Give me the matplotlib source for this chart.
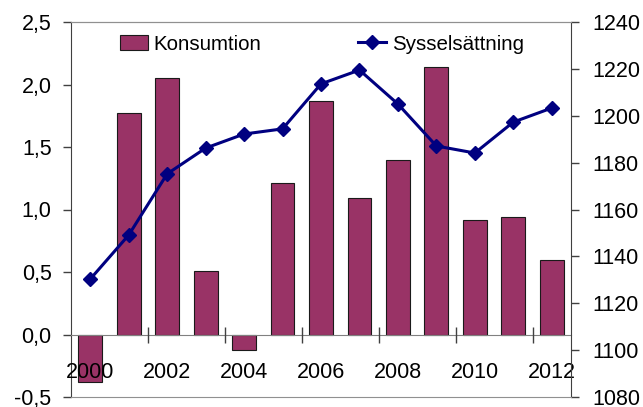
import matplotlib
matplotlib.use("Agg")
import matplotlib.pyplot as plt
from matplotlib.lines import Line2D
from matplotlib.patches import Patch

plt.rcParams['font.family'] = ['Liberation Sans', 'DejaVu Sans']

years = [2000, 2001, 2002, 2003, 2004, 2005, 2006, 2007, 2008, 2009, 2010, 2011, 2012]
konsumtion = [-0.38, 1.77, 2.05, 0.51, -0.12, 1.21, 1.87, 1.09, 1.40, 2.14, 0.92, 0.94, 0.60]
sysselsattning = [1130.3, 1149.1, 1175.2, 1186.2, 1192.2, 1194.4, 1213.6, 1219.5, 1205.0,
                  1187.1, 1184.1, 1197.3, 1203.3]
left_ticks = [-0.5, 0.0, 0.5, 1.0, 1.5, 2.0, 2.5]
left_labels = ['-0,5', '0,0', '0,5', '1,0', '1,5', '2,0', '2,5']
right_ticks = [1080, 1100, 1120, 1140, 1160, 1180, 1200, 1220, 1240]

bar_color = '#993366'
line_color = '#000080'
fs = 15.5
fs_leg = 14.8

fig = plt.figure(figsize=(6.43, 4.07), dpi=100)
ax = fig.add_axes([71/643, 10/407, 500/643, 375/407])
x = list(range(len(years)))

ax.bar(x, konsumtion, width=0.62, color=bar_color, edgecolor='#1a1a1a', linewidth=0.8, zorder=2)
ax.set_xlim(-0.5, len(years) - 0.5)
ax.set_ylim(-0.5, 2.5)
ax.set_yticks(left_ticks)
ax.set_yticklabels(left_labels, fontsize=fs)
ax.tick_params(axis='y', direction='out', length=6, width=1, color='#404040', pad=8)

ax.spines['bottom'].set_position(('data', 0))
ax.spines['bottom'].set_color('#808080')
ax.spines['bottom'].set_zorder(3)
ax.spines['left'].set_color('#404040')
ax.spines['right'].set_visible(False)
ax.spines['top'].set_color('#909090')

ax.set_xticks(x[::2])
ax.set_xticklabels([str(y) for y in years[::2]], fontsize=fs)
ax.tick_params(axis='x', which='major', length=0, pad=20)
ax.set_xticks([i + 1.5 for i in range(0, len(years) - 1, 2)], minor=True)
ax.tick_params(axis='x', which='minor', direction='inout', length=11.5, width=1, color='#404040')
ax.xaxis.set_zorder(5)

ax2 = ax.twinx()
ax2.plot(x, sysselsattning, color=line_color, linewidth=2.2, marker='D', markersize=7, zorder=4)
ax2.set_ylim(1080, 1240)
ax2.set_yticks(right_ticks)
ax2.set_yticklabels([str(v) for v in right_ticks], fontsize=fs)
ax2.tick_params(axis='y', direction='out', length=6, width=1, color='#404040', pad=9.4)
ax2.spines['right'].set_color('#404040')
ax2.spines['left'].set_visible(False)
ax2.spines['top'].set_color('#909090')
ax2.spines['bottom'].set_color('#909090')

handles = [Patch(facecolor=bar_color, edgecolor='#1a1a1a', linewidth=0.8),
           Line2D([0], [0], color=line_color, linewidth=2.2, marker='D', markersize=7)]
leg = fig.legend(handles, ['Konsumtion', 'Sysselsättning'], ncol=2, frameon=False,
                 fontsize=fs_leg, loc='center left', bbox_to_anchor=(120/643, 1 - 44/407),
                 borderpad=0, borderaxespad=0,
                 columnspacing=4.7, handlelength=1.34, handletextpad=0.3)

fig.savefig('out.png', dpi=100)
